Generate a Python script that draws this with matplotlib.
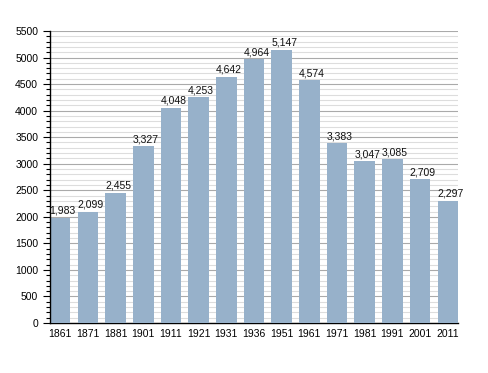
import matplotlib
matplotlib.use("Agg")
import matplotlib.pyplot as plt
from matplotlib.ticker import MultipleLocator

years = ["1861", "1871", "1881", "1901", "1911", "1921", "1931", "1936",
         "1951", "1961", "1971", "1981", "1991", "2001", "2011"]
population = [1983, 2099, 2455, 3327, 4048, 4253, 4642, 4964,
              5147, 4574, 3383, 3047, 3085, 2709, 2297]

plt.rcParams['font.family'] = ['Liberation Sans', 'DejaVu Sans']

fig = plt.figure(figsize=(4.88, 3.73), dpi=100)
ax = fig.add_axes([50/488, 50/373, 408/488, 292/373])

x = list(range(len(years)))
w = 0.74
ax.bar(x, population, width=w, color="#97b1ca", zorder=3)
for xi, v in zip(x, population):
    t = ax.text(xi + 0.09, v + 40, f"{v:,}", ha="center", va="bottom",
                fontsize=7.5, color="#111111", zorder=5)
    t.set_clip_on(False)

ax.set_xlim(-w/2, len(years) - 1 + w/2)
ax.set_ylim(0, 5500)
ax.set_xticks(x)
ax.set_xticklabels(years, fontsize=7.5)
ax.yaxis.set_major_locator(MultipleLocator(500))
ax.yaxis.set_minor_locator(MultipleLocator(100))
ax.tick_params(axis="y", which="major", labelsize=7.5, length=5, width=0.8, direction="out")
ax.tick_params(axis="y", which="minor", length=3, width=0.8, direction="out")
ax.tick_params(axis="x", length=0, pad=4)
ax.grid(axis="y", which="major", color="#aaaaaa", linewidth=0.8, zorder=0)
ax.grid(axis="y", which="minor", color="#dddddd", linewidth=0.8, zorder=0)
ax.set_axisbelow(True)
for s in ["top", "right"]:
    ax.spines[s].set_visible(False)
ax.spines["left"].set_linewidth(1.0)
ax.spines["bottom"].set_linewidth(1.0)
ax.spines["left"].set_zorder(4)

fig.savefig("out.png", dpi=100)
